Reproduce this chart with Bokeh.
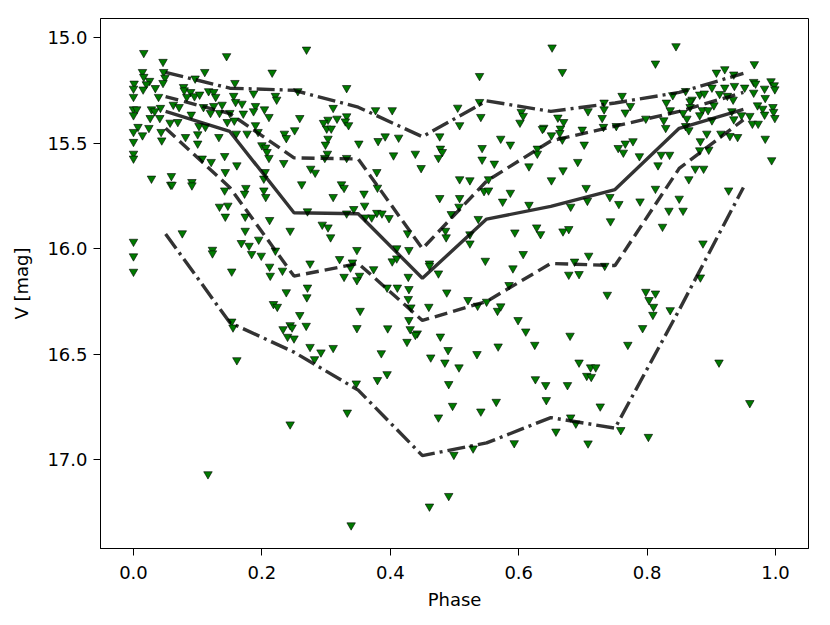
from bokeh.plotting import figure
from bokeh.models import Range1d, FixedTicker, PrintfTickFormatter
from bokeh.embed import file_html
from bokeh.resources import INLINE

# observations (phase, V mag), grouped by region of the diagram
obs_early_bright = [
    (0.016,15.073),(0.145,15.088),(0.046,15.115),(0.014,15.163),(0.047,15.163),(0.111,15.163),(0.216,15.166),(0.016,15.186),(0.025,15.205),(0.049,15.190),
    (0.001,15.218),(0.020,15.221),(0.046,15.215),(0.000,15.242),(0.034,15.239),(0.015,15.246),(0.078,15.234),(0.096,15.194),(0.158,15.215),(0.079,15.250),
    (0.089,15.258),(0.117,15.254),(0.125,15.258),(0.000,15.281),(0.039,15.281),(0.083,15.281),(0.095,15.278),(0.103,15.270),(0.128,15.281),(0.187,15.265),
    (0.156,15.276),(0.221,15.276),(0.223,15.294),(0.159,15.305),(0.169,15.313),(0.062,15.318),(0.071,15.329),(0.042,15.333),(0.028,15.340),(0.000,15.340),
    (0.005,15.340),(0.000,15.368),(0.033,15.349),(0.125,15.324),(0.138,15.318),(0.109,15.329),(0.120,15.357),(0.134,15.357),(0.150,15.357),(0.171,15.360),
    (0.190,15.324),(0.187,15.349),(0.204,15.340),(0.211,15.376),(0.090,15.365),(0.026,15.381),(0.041,15.381),(0.146,15.400),(0.157,15.393),(0.057,15.403),
    (0.069,15.400),(0.102,15.419),(0.112,15.423),(0.007,15.423),(0.024,15.428),(0.190,15.415),(0.014,15.463),(0.000,15.447),(0.043,15.447),(0.100,15.458),
    (0.081,15.471),(0.133,15.471),(0.177,15.455),(0.160,15.455),(0.194,15.447),(0.044,15.487),(0.000,15.494),(0.100,15.502),(0.200,15.510),(0.206,15.521),
    (0.208,15.542),(0.000,15.550),(0.000,15.573),(0.142,15.561),(0.107,15.573),(0.121,15.589),(0.161,15.605),(0.211,15.570),(0.143,15.637),(0.205,15.637),
    (0.203,15.668),(0.028,15.668),(0.059,15.656),(0.058,15.697),(0.060,15.697),(0.091,15.684),(0.091,15.700),(0.175,15.712),(0.173,15.739),(0.203,15.724),
    (0.142,15.724),(0.206,15.755),
]
obs_mid_bright = [
    (0.2695,15.057),(0.332,15.239),(0.256,15.254),(0.311,15.333),(0.259,15.381),(0.303,15.389),(0.296,15.404),(0.317,15.384),(0.332,15.373),(0.330,15.397),
    (0.335,15.415),(0.301,15.431),(0.308,15.431),(0.251,15.439),(0.235,15.455),(0.238,15.476),(0.303,15.479),(0.299,15.507),(0.377,15.344),(0.403,15.344),
    (0.392,15.468),(0.381,15.490),(0.413,15.474),(0.351,15.502),(0.477,15.468),(0.478,15.526),(0.481,15.542),(0.475,15.570),(0.439,15.550),(0.405,15.558),
    (0.448,15.618),(0.302,15.550),(0.298,15.570),(0.332,15.570),(0.234,15.594),(0.276,15.621),(0.283,15.640),(0.379,15.637),(0.262,15.695),(0.324,15.695),
    (0.328,15.712),(0.380,15.711),(0.359,15.739),(0.311,15.755),(0.477,15.760),
]
obs_late_bright = [
    (0.652,15.047),(0.668,15.163),(0.539,15.182),(0.539,15.305),(0.505,15.332),(0.733,15.308),(0.733,15.340),(0.730,15.381),(0.604,15.352),(0.607,15.371),
    (0.602,15.403),(0.541,15.376),(0.508,15.415),(0.661,15.379),(0.670,15.400),(0.639,15.427),(0.637,15.433),(0.665,15.431),(0.651,15.463),(0.664,15.452),
    (0.668,15.483),(0.708,15.349),(0.699,15.436),(0.732,15.423),(0.752,15.419),(0.572,15.479),(0.543,15.523),(0.587,15.507),(0.702,15.507),(0.755,15.523),
    (0.543,15.578),(0.562,15.597),(0.629,15.526),(0.629,15.550),(0.616,15.610),(0.692,15.589),(0.669,15.629),(0.508,15.671),(0.524,15.676),(0.553,15.671),
    (0.651,15.676),(0.705,15.712),(0.546,15.727),(0.553,15.724),(0.587,15.735),(0.742,15.755),(0.508,15.760),
]
obs_end_bright = [
    (0.845,15.041),(0.813,15.123),(0.967,15.126),(0.908,15.166),(0.921,15.150),(0.935,15.175),(0.993,15.207),(0.966,15.210),(0.969,15.218),(0.998,15.226),
    (0.999,15.245),(0.983,15.242),(0.952,15.237),(0.936,15.229),(0.921,15.237),(0.901,15.237),(0.966,15.261),(0.984,15.286),(0.860,15.253),(0.840,15.273),
    (0.761,15.276),(0.870,15.294),(0.867,15.302),(0.882,15.270),(0.889,15.265),(0.913,15.267),(0.925,15.276),(0.934,15.294),(0.830,15.308),(0.774,15.324),
    (0.766,15.355),(0.836,15.344),(0.856,15.357),(0.867,15.329),(0.886,15.344),(0.895,15.344),(0.904,15.321),(0.882,15.368),(0.932,15.349),(0.972,15.321),
    (0.980,15.337),(0.996,15.329),(0.997,15.352),(0.983,15.365),(0.999,15.381),(0.960,15.371),(0.947,15.368),(0.935,15.387),(0.964,15.408),(0.973,15.408),
    (0.862,15.384),(0.901,15.392),(0.798,15.384),(0.826,15.392),(0.829,15.428),(0.860,15.419),(0.865,15.439),(0.893,15.455),(0.915,15.455),(0.929,15.466),
    (0.941,15.471),(0.984,15.479),(0.883,15.491),(0.778,15.491),(0.766,15.502),(0.763,15.545),(0.788,15.562),(0.822,15.555),(0.835,15.555),(0.882,15.534),
    (0.896,15.531),(0.817,15.605),(0.875,15.621),(0.888,15.621),(0.994,15.581),(0.865,15.671),(0.813,15.716),(0.927,15.724),(0.850,15.763),
]
obs_early_faint = [
    (0.134,15.801),(0.147,15.796),(0.143,15.848),(0.174,15.848),(0.212,15.864),(0.174,15.915),(0.076,15.927),(0.000,15.967),(0.168,15.973),(0.180,15.986),
    (0.195,15.957),(0.123,16.005),(0.123,16.022),(0.184,16.025),(0.199,16.033),(0.221,16.009),(0.000,16.036),(0.212,16.085),(0.213,16.128),(0.153,16.108),
    (0.000,16.109),(0.218,16.262),(0.224,16.275),(0.153,16.345),(0.155,16.373),(0.161,16.528),
]
obs_mid_faint = [
    (0.360,15.796),(0.343,15.812),(0.271,15.823),(0.332,15.833),(0.379,15.830),(0.387,15.833),(0.398,15.855),(0.371,15.852),(0.361,15.852),(0.294,15.886),
    (0.303,15.899),(0.307,15.946),(0.244,15.915),(0.427,15.927),(0.486,15.915),(0.487,15.946),(0.348,16.006),(0.410,15.998),(0.429,16.006),(0.403,16.060),
    (0.410,16.046),(0.461,16.070),(0.461,16.081),(0.475,16.117),(0.321,16.049),(0.341,16.065),(0.338,16.089),(0.352,16.128),(0.348,16.149),(0.374,16.097),
    (0.328,16.133),(0.275,16.070),(0.232,16.104),(0.428,16.133),(0.411,16.184),(0.429,16.191),(0.395,16.184),(0.428,16.238),(0.432,16.278),(0.460,16.275),
    (0.488,16.207),(0.271,16.184),(0.270,16.230),(0.238,16.206),(0.353,16.294),(0.259,16.314),(0.269,16.365),(0.233,16.381),(0.244,16.362),(0.247,16.373),
    (0.240,16.417),(0.250,16.425),(0.348,16.376),(0.396,16.377),(0.429,16.338),(0.431,16.381),(0.442,16.401),(0.439,16.408),(0.478,16.416),(0.426,16.441),
    (0.275,16.465),(0.292,16.491),(0.311,16.470),(0.282,16.523),(0.386,16.495),(0.463,16.515),(0.485,16.539),(0.490,16.480),
]
obs_late_faint = [
    (0.707,15.773),(0.507,15.801),(0.575,15.777),(0.616,15.792),(0.681,15.801),(0.756,15.788),(0.743,15.870),(0.537,15.859),(0.495,15.836),(0.524,15.932),
    (0.524,15.975),(0.594,15.923),(0.628,15.899),(0.634,15.931),(0.669,15.918),(0.678,15.907),(0.607,16.025),(0.548,16.057),(0.591,16.093),(0.709,16.033),
    (0.687,16.061),(0.678,16.123),(0.694,16.120),(0.734,16.081),(0.738,16.218),(0.585,16.172),(0.521,16.243),(0.536,16.270),(0.550,16.251),(0.567,16.294),
    (0.572,16.273),(0.599,16.338),(0.611,16.392),(0.680,16.412),(0.568,16.463),(0.625,16.455),(0.535,16.499),(0.507,16.562),(0.694,16.539),(0.712,16.562),
    (0.720,16.562),
]
obs_end_faint = [
    (0.789,15.776),(0.834,15.820),(0.856,15.820),(0.824,15.896),(0.887,15.975),(0.883,16.136),(0.798,16.204),(0.813,16.212),(0.803,16.243),(0.810,16.275),
    (0.836,16.291),(0.809,16.313),(0.793,16.376),(0.770,16.455),(0.912,16.539),
]
obs_faintest = [
    (0.116,17.068),(0.380,16.622),(0.395,16.594),(0.491,16.641),(0.347,16.638),(0.333,16.776),(0.244,16.832),(0.475,16.799),(0.491,17.171),(0.461,17.221),
    (0.339,17.310),(0.706,16.602),(0.713,16.607),(0.626,16.618),(0.642,16.646),(0.676,16.646),(0.497,16.744),(0.565,16.725),(0.541,16.771),(0.643,16.717),
    (0.727,16.747),(0.681,16.799),(0.689,16.828),(0.658,16.866),(0.708,16.922),(0.593,16.921),(0.529,16.946),(0.499,16.976),(0.960,16.731),(0.802,16.891),
    (0.759,16.859),
]

# binned envelope curves
bin_phase = [0.05, 0.15, 0.25, 0.35, 0.45, 0.55, 0.65, 0.75, 0.85, 0.95]
curve_top = [15.165, 15.24, 15.25, 15.33, 15.47, 15.30, 15.35, 15.31, 15.26, 15.17]
curve_upper = [15.28, 15.36, 15.57, 15.575, 16.00, 15.68, 15.49, 15.42, 15.35, 15.26]
curve_median = [15.35, 15.445, 15.83, 15.835, 16.14, 15.86, 15.80, 15.72, 15.43, 15.34]
curve_lower = [15.43, 15.71, 16.13, 16.07, 16.34, 16.25, 16.07, 16.08, 15.62, 15.39]
curve_bottom = [15.93, 16.35, 16.49, 16.67, 16.98, 16.92, 16.80, 16.85, 16.29, 15.71]

x_ticks = [0.0, 0.2, 0.4, 0.6, 0.8, 1.0]
y_ticks = [15.0, 15.5, 16.0, 16.5, 17.0]

obs = (obs_early_bright + obs_mid_bright + obs_late_bright + obs_end_bright +
       obs_early_faint + obs_mid_faint + obs_late_faint + obs_end_faint + obs_faintest)
ph = [o[0] for o in obs]
mg = [o[1] for o in obs]

FONT = "DejaVu Sans"

p = figure(width=828, height=622, output_backend="svg", toolbar_location=None,
           x_range=Range1d(-0.0514, 1.0514), y_range=Range1d(17.42, 14.91),
           min_border_left=100, min_border_right=20, min_border_top=18, min_border_bottom=74)
p.grid.visible = False
p.outline_line_color = "black"
p.outline_line_width = 1
p.background_fill_color = "white"
p.border_fill_color = "white"

curves = [
    (curve_top, "18 5 3 5"),
    (curve_upper, "13 6"),
    (curve_median, "solid"),
    (curve_lower, "13 6"),
    (curve_bottom, "18 5 3 5"),
]

p.scatter(ph, mg, marker="inverted_triangle", size=8.5, fill_color="#007a00",
          line_color="black", line_width=0.6)

for vals, dash in curves:
    p.line(bin_phase, vals, line_color="black", line_alpha=0.8, line_width=3.4,
           line_dash=dash)

for ax in (p.xaxis[0], p.yaxis[0]):
    ax.major_label_text_font = FONT
    ax.major_label_text_font_size = "18px"
    ax.major_label_text_color = "black"
    ax.axis_label_text_font = FONT
    ax.axis_label_text_font_size = "18px"
    ax.axis_label_text_font_style = "normal"
    ax.axis_label_text_color = "black"
    ax.major_tick_out = 7
    ax.major_tick_in = 0
    ax.minor_tick_out = 0
    ax.minor_tick_in = 0
    ax.axis_line_color = "black"
    ax.major_tick_line_color = "black"
    ax.formatter = PrintfTickFormatter(format="%.1f")

p.xaxis[0].ticker = FixedTicker(ticks=x_ticks)
p.yaxis[0].ticker = FixedTicker(ticks=y_ticks)
p.xaxis[0].axis_label = "Phase"
p.yaxis[0].axis_label = "V [mag]"
p.xaxis[0].major_label_standoff = 10
p.yaxis[0].major_label_standoff = 6
p.xaxis[0].axis_label_standoff = 7
p.yaxis[0].axis_label_standoff = 12

open("out.html", "w").write(file_html(p, INLINE))
